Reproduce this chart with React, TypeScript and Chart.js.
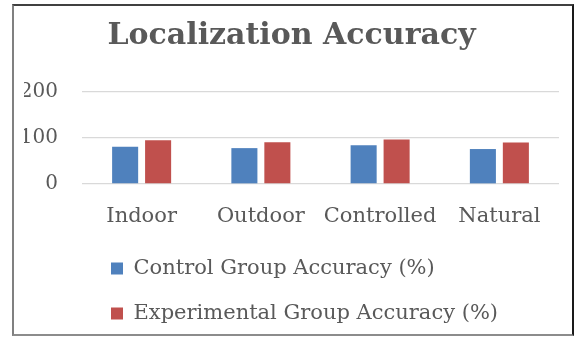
import React, { useEffect, useRef } from "react";
import { Chart, registerables } from "chart.js";

Chart.register(...registerables);

const categories = ["Indoor", "Outdoor", "Controlled", "Natural"];
const controlValues = [81, 78, 84, 76];
const experimentalValues = [95, 91, 97, 90];
const seriesLabels = ["Control Group Accuracy (%)", "Experimental Group Accuracy (%)"];
const titleText = "Localization Accuracy";

const FONT = "'DejaVu Serif', serif";
const TEXT = "#595959";

const legendShift = {
  id: "legendShift",
  afterLayout(chart: any) {
    if (chart.legend) {
      chart.legend.left = 87;
    }
  },
};

export default function App() {
  const ref = useRef<HTMLCanvasElement | null>(null);

  useEffect(() => {
    if (!ref.current) return;
    const chart = new Chart(ref.current, {
      type: "bar",
      data: {
        labels: categories,
        datasets: [
          {
            label: seriesLabels[0],
            data: controlValues,
            backgroundColor: "#4F81BD",
            categoryPercentage: 0.553,
            barPercentage: 0.79,
          },
          {
            label: seriesLabels[1],
            data: experimentalValues,
            backgroundColor: "#C0504D",
            categoryPercentage: 0.553,
            barPercentage: 0.79,
          },
        ],
      },
      plugins: [legendShift],
      options: {
        responsive: false,
        animation: false,
        devicePixelRatio: 1,
        layout: { padding: { left: 24, right: 24, top: 0, bottom: 8 } },
        plugins: {
          title: {
            display: true,
            text: titleText,
            color: TEXT,
            font: { family: FONT, size: 30, weight: "bold" },
            padding: { top: 18, bottom: 38 },
          },
          legend: {
            display: true,
            position: "bottom",
            align: "start",
            labels: {
              color: TEXT,
              font: { family: FONT, size: 21 },
              boxWidth: 12,
              boxHeight: 12,
              padding: 24,
            },
          },
          tooltip: { enabled: false },
        },
        scales: {
          x: {
            grid: { display: false, drawTicks: false },
            border: { display: false },
            ticks: {
              color: TEXT,
              font: { family: FONT, size: 21 },
              padding: 20,
              maxRotation: 0,
              autoSkip: false,
            },
            afterFit: (scale: any) => {
              scale.height = 50;
            },
          },
          y: {
            min: 0,
            max: 200,
            grid: { color: "#d9d9d9", lineWidth: 1.3, drawTicks: false },
            border: { display: false },
            ticks: {
              stepSize: 100,
              color: TEXT,
              font: { family: FONT, size: 20 },
              padding: 24,
            },
            afterFit: (scale: any) => {
              scale.width = 58;
            },
          },
        },
      },
    });
    return () => chart.destroy();
  }, []);

  return (
    <div style={{ position: "absolute", left: 0, top: 0, width: 583, height: 342, background: "#fff" }}>
      <canvas ref={ref} width={583} height={342} style={{ display: "block", width: 583, height: 342 }} />
      <div
        style={{
          position: "absolute",
          left: 12,
          top: 4,
          width: 562,
          height: 332,
          boxSizing: "border-box",
          borderTop: "2px solid #404040",
          borderLeft: "2px solid #808080",
          borderRight: "2px solid #1a1a1a",
          borderBottom: "2px solid #8c8c8c",
          pointerEvents: "none",
        }}
      />
    </div>
  );
}
